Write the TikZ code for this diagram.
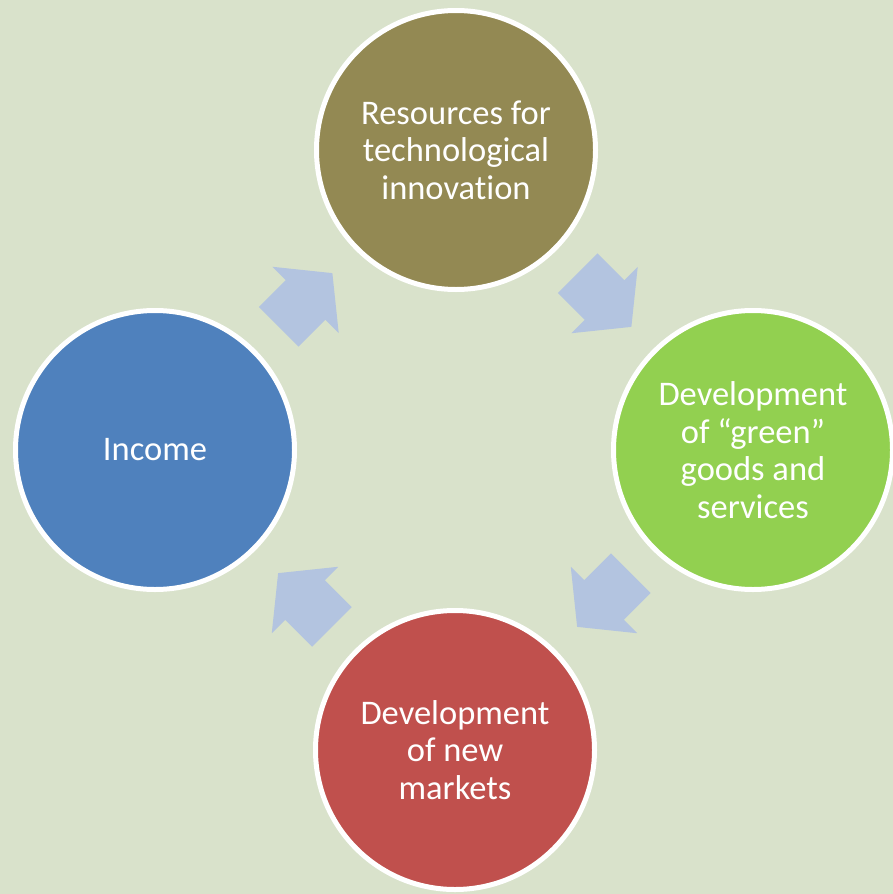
\documentclass[tikz,border=0pt]{standalone}
\usepackage{fontspec}
\setmainfont{Carlito}[Ligatures=NoCommon]
\usepackage{tikz}
\usetikzlibrary{calc}
\definecolor{bgpaper}{HTML}{D9E2CB}
\definecolor{resolive}{HTML}{938953}
\definecolor{grnlime}{HTML}{92D050}
\definecolor{mktred}{HTML}{C0504D}
\definecolor{incblue}{HTML}{4F81BD}
\definecolor{arrblue}{HTML}{B3C4E0}
\tikzset{cyc/.style={circle, draw=white, line width=5, minimum size=279, inner sep=0,
  text=white, align=center, font=\fontsize{34.5}{37.5}\selectfont}}

\begin{document}
\begin{tikzpicture}[x=1pt,y=-1pt]
\useasboundingbox (0,0) rectangle (893,894);
\fill[bgpaper] (0,0) rectangle (893,894);

\node[cyc, fill=resolive] (res) at (456,150) {Resources for\\technological\\innovation};
\node[cyc, fill=grnlime] (grn) at (753,450) {Development\\of “green”\\goods and\\services};
\node[cyc, fill=mktred] (mkt) at (455,750) {Development\\of new\\markets};
\node[cyc, fill=incblue] (inc) at (155,450) {Income};

% block arrows between the circles
\foreach \a/\b/\ang in {inc/res/45, res/grn/-45, grn/mkt/-135, mkt/inc/135} {
  \fill[arrblue, shift={($(\a)!.5!(\b)$)}, rotate=\ang]
    (-38,-28) -- (0,-28) -- (0,-47) -- (38,0) -- (0,47) -- (0,28) -- (-38,28) -- cycle;
}
\end{tikzpicture}
\end{document}
